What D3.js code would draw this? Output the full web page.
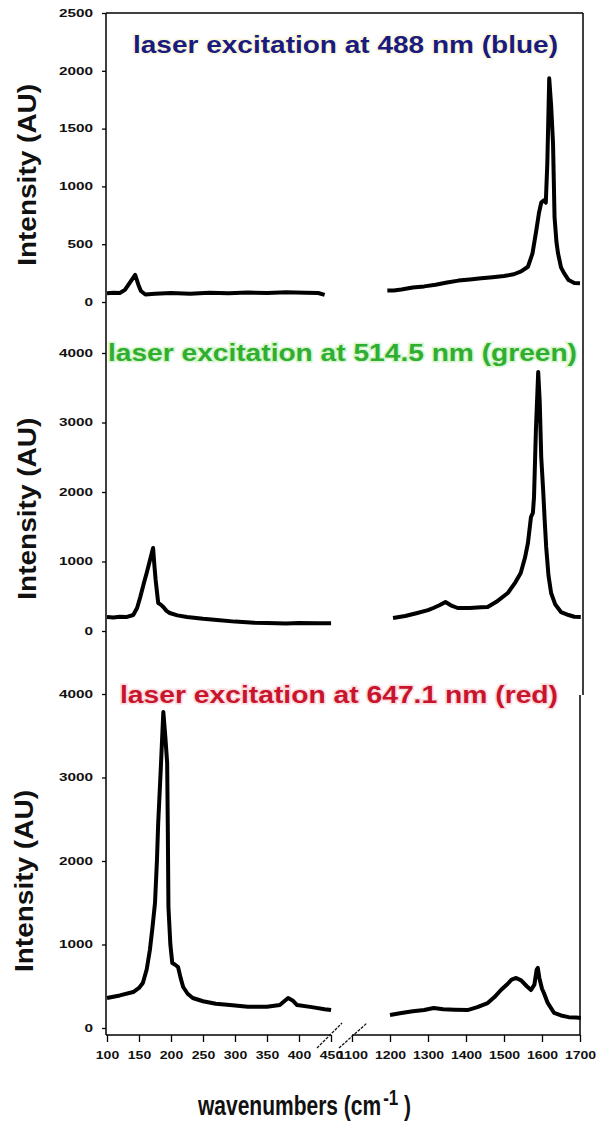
<!DOCTYPE html>
<html>
<head>
<meta charset="utf-8">
<script src="https://cdn.jsdelivr.net/npm/d3@7"></script>
<style>
  body { margin: 0; background: #fff; }
  text { font-family: "Liberation Sans", Arial, sans-serif; }
</style>
</head>
<body>
<svg id="chart"></svg>
<script>
// axis ticks for the two pieces of the broken wavenumber axis
const lowTicks = [100, 150, 200, 250, 300, 350, 400, 450];
const highTicks = [1100, 1200, 1300, 1400, 1500, 1600, 1700];

// 488 nm (blue) spectrum, [wavenumber, intensity]
const blueLow = [[100,75],[110,80],[120,78],[128,105],[136,170],[144,235],[149,150],[153,95],[160,65],[175,72],[200,78],[230,72],[260,80],[290,75],[320,82],[350,78],[380,85],[410,80],[430,78],[440,62]];
const blueHigh = [[1193,100],[1210,100],[1230,108],[1260,125],[1290,135],[1320,150],[1350,168],[1380,185],[1410,195],[1440,205],[1470,215],[1500,225],[1526,240],[1545,265],[1563,305],[1575,420],[1585,620],[1592,770],[1598,860],[1605,880],[1610,860],[1614,1200],[1619,1935],[1624,1700],[1629,1375],[1633,735],[1638,520],[1642,424],[1650,300],[1658,250],[1670,190],[1685,165],[1700,162]];

// 514.5 nm (green) spectrum
const greenLow = [[100,200],[110,195],[120,205],[130,200],[141,230],[147,330],[152,489],[158,700],[162,835],[168,1050],[172,1194],[174,950],[176,734],[180,403],[184,380],[188,345],[193,290],[198,259],[210,225],[225,201],[250,175],[272,158],[300,135],[330,120],[350,115],[380,108],[400,115],[430,110],[452,110]];
const greenHigh = [[1208,187],[1240,215],[1272,259],[1300,300],[1314,331],[1330,370],[1346,417],[1360,370],[1378,331],[1410,330],[1440,340],[1457,345],[1480,420],[1510,547],[1530,700],[1544,835],[1555,1050],[1563,1266],[1571,1640],[1576,1700],[1579,1928],[1584,2900],[1590,3727],[1594,3300],[1598,2500],[1603,2029],[1607,1600],[1611,1209],[1617,800],[1624,547],[1635,380],[1650,273],[1670,230],[1685,205],[1702,201]];

// 647.1 nm (red) spectrum
const redLow = [[100,359],[120,390],[141,431],[150,480],[156,539],[162,700],[167,934],[171,1200],[175,1497],[178,2000],[180,2455],[184,3100],[188,3784],[191,3500],[194,3174],[195,2400],[196,1449],[199,1000],[202,778],[206,760],[211,730],[215,600],[219,491],[226,410],[234,359],[250,320],[270,290],[292,275],[320,255],[350,255],[370,275],[383,359],[390,330],[397,275],[420,250],[440,225],[452,215]];
const redHigh = [[1200,156],[1230,180],[1260,200],[1290,215],[1315,240],[1340,225],[1370,220],[1404,215],[1430,250],[1457,299],[1475,370],[1492,455],[1510,530],[1520,580],[1532,599],[1545,570],[1560,500],[1571,455],[1580,520],[1586,700],[1589,719],[1593,600],[1600,470],[1605,419],[1615,300],[1632,180],[1650,150],[1670,130],[1690,125],[1702,120]];

const panels = [
  { title: "laser excitation at 488 nm (blue)", color: "#1b1b7e", halo: "#fbf8e0",
    max: 2500, ticks: [0, 500, 1000, 1500, 2000, 2500], range: [302, 13],
    low: blueLow, high: blueHigh, titleX: 133, titleY: 53, titleW: 425, labelX: 36 },
  { title: "laser excitation at 514.5 nm (green)", color: "#2fae2f", halo: "#d8f5d0",
    max: 4000, ticks: [0, 1000, 2000, 3000, 4000], range: [631, 353],
    low: greenLow, high: greenHigh, titleX: 108, titleY: 361, titleW: 469, labelX: 36 },
  { title: "laser excitation at 647.1 nm (red)", color: "#c8142c", halo: "#fbdde0",
    max: 4000, ticks: [0, 1000, 2000, 3000, 4000], range: [1028, 694],
    low: redLow, high: redHigh, titleX: 120, titleY: 703, titleW: 438, labelX: 33 }
];

const width = 598, height = 1127;
const xAxisY = 1035;

const svg = d3.select("#chart").attr("width", width).attr("height", height);

// broken axis: one piecewise linear scale
const x = d3.scaleLinear()
  .domain([100, 450, 1100, 1700])
  .range([107, 331, 352, 580]);

panels.forEach(function(p) {
  const y = d3.scaleLinear().domain([0, p.max]).range(p.range);

  const ax = svg.append("g")
    .attr("transform", "translate(106,0)")
    .call(d3.axisLeft(y).tickValues(p.ticks).tickSize(4).tickPadding(9).tickFormat(d3.format("d")));
  ax.select(".domain").remove();
  ax.selectAll("line").attr("stroke", "#000").attr("stroke-width", 1.3);
  ax.selectAll("text")
    .attr("font-size", 10)
    .attr("font-weight", "bold")
    .attr("fill", "#111")
    .attr("textLength", function(d) { return String(d).length * 8.5; })
    .attr("lengthAdjust", "spacingAndGlyphs");

  const line = d3.line()
    .x(function(d) { return x(d[0]); })
    .y(function(d) { return y(d[1]); });

  [p.low, p.high].forEach(function(seg) {
    svg.append("path")
      .datum(seg)
      .attr("d", line)
      .attr("fill", "none")
      .attr("stroke", "#000")
      .attr("stroke-width", 4)
      .attr("stroke-linejoin", "round");
  });

  svg.append("text")
    .attr("x", p.titleX)
    .attr("y", p.titleY)
    .attr("font-size", 24)
    .attr("font-weight", "bold")
    .attr("fill", p.color)
    .attr("stroke", p.halo)
    .attr("stroke-width", 3)
    .attr("paint-order", "stroke")
    .attr("textLength", p.titleW)
    .attr("lengthAdjust", "spacingAndGlyphs")
    .text(p.title);

  svg.append("text")
    .attr("transform", "translate(" + p.labelX + "," + (p.range[0] - (p.range[0] - p.range[1]) * 0.44) + ") rotate(-90)")
    .attr("text-anchor", "middle")
    .attr("font-size", 25)
    .attr("font-weight", "bold")
    .attr("fill", "#111")
    .attr("textLength", 182)
    .attr("lengthAdjust", "spacingAndGlyphs")
    .text("Intensity (AU)");
});

// frame: left axis line, top border, right border
svg.append("line").attr("x1", 106).attr("x2", 106).attr("y1", 13).attr("y2", xAxisY)
  .attr("stroke", "#000").attr("stroke-width", 1.5);
svg.append("line").attr("x1", 106).attr("x2", 583).attr("y1", 13).attr("y2", 13)
  .attr("stroke", "#000").attr("stroke-width", 1.5);
svg.append("line").attr("x1", 583).attr("x2", 583).attr("y1", 13).attr("y2", 695)
  .attr("stroke", "#000").attr("stroke-width", 1.5);
svg.append("line").attr("x1", x(1700)).attr("x2", x(1700)).attr("y1", 695).attr("y2", xAxisY)
  .attr("stroke", "#000").attr("stroke-width", 1.5);

// bottom axis in two pieces
[lowTicks, highTicks].forEach(function(tv) {
  const g = svg.append("g")
    .attr("transform", "translate(0," + xAxisY + ")")
    .call(d3.axisBottom(x).tickValues(tv).tickSize(7).tickPadding(9).tickFormat(d3.format("d")));
  g.select(".domain").remove();
  g.selectAll("line").attr("stroke", "#000").attr("stroke-width", 1.3);
  g.selectAll("text")
    .attr("font-size", 11)
    .attr("font-weight", "bold")
    .attr("fill", "#111")
    .attr("textLength", function(d) { return String(d).length * 7.8; })
    .attr("lengthAdjust", "spacingAndGlyphs");
});
svg.append("line").attr("x1", 106).attr("x2", x(450)).attr("y1", xAxisY).attr("y2", xAxisY)
  .attr("stroke", "#000").attr("stroke-width", 1.5);
svg.append("line").attr("x1", x(1100)).attr("x2", x(1700)).attr("y1", xAxisY).attr("y2", xAxisY)
  .attr("stroke", "#000").attr("stroke-width", 1.5);

// axis break marks
[[x(450) - 14, x(450) + 11], [x(450) + 8, x(1100) + 15]].forEach(function(s) {
  svg.append("line")
    .attr("x1", s[0]).attr("y1", xAxisY + 13)
    .attr("x2", s[1]).attr("y2", xAxisY - 12)
    .attr("stroke", "#111").attr("stroke-width", 1.3)
    .attr("stroke-dasharray", "3,1.2");
});

// x axis title
const xt = svg.append("g").attr("transform", "translate(198,1115) scale(1,1.3)")
  .append("text")
  .attr("font-size", 21)
  .attr("font-weight", "bold")
  .attr("fill", "#111");
xt.append("tspan").text("wavenumbers (cm");
xt.append("tspan").attr("dy", -8).attr("dx", 2).attr("font-size", 17).text("-1");
xt.append("tspan").attr("dy", 8).text(" )");
</script>
</body>
</html>
